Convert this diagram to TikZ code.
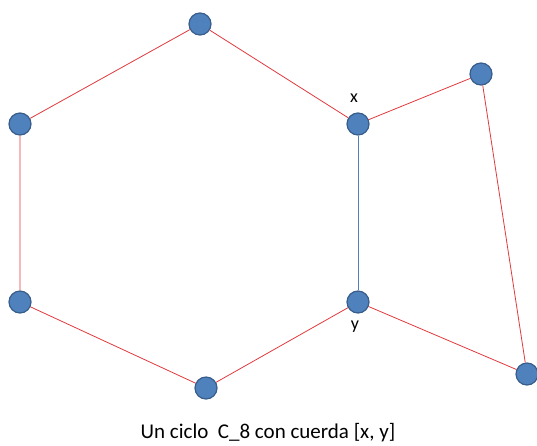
\documentclass[tikz,border=0pt]{standalone}
\usepackage{fontspec}
\setmainfont{Carlito}
\definecolor{nodeblue}{HTML}{4F81BD}
\definecolor{nodeedge}{HTML}{385D8A}
\definecolor{edgered}{HTML}{E0393E}
\begin{document}
\begin{tikzpicture}[x=1pt,y=-1pt,font=\fontsize{18}{20}\selectfont,
vertex/.style={circle,draw=nodeedge,fill=nodeblue,line width=1.2pt,minimum size=22pt,inner sep=0pt},
cycle/.style={edgered,line width=0.8pt},
chord/.style={nodeblue,line width=0.9pt}]
\useasboundingbox (0,0) rectangle (537,445);
\node[vertex] (top) at (200,24) {};
\node[vertex] (lt) at (20,124) {};
\node[vertex] (lb) at (20,302) {};
\node[vertex] (bot) at (206,388) {};
\node[vertex] (x) at (358,124) {};
\node[vertex] (y) at (358,302) {};
\node[vertex] (rt) at (481,74) {};
\node[vertex] (rb) at (527,374) {};
\node[inner sep=0pt] (xl) at (354,98) {x};
\node[inner sep=0pt] (yl) at (355,327) {y};
\node[inner sep=0pt,font=\fontsize{21}{24}\selectfont] (cap) at (268,433) {Un ciclo\ \ C\_8 con cuerda [x, y]};
\draw[cycle] (top) -- (lt) -- (lb) -- (bot) -- (y) -- (rb) -- (rt) -- (x) -- (top);
\draw[chord] (x) -- (y);
\end{tikzpicture}
\end{document}
